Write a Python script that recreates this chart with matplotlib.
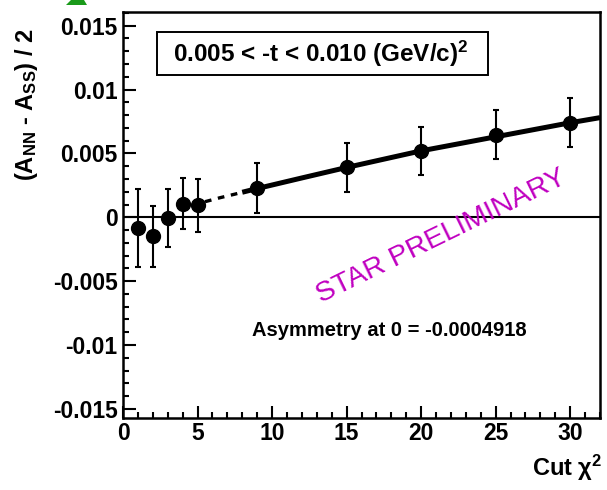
import matplotlib
matplotlib.use("Agg")
import matplotlib.pyplot as plt
from matplotlib.patches import Rectangle, Polygon
from matplotlib.ticker import MultipleLocator, FixedLocator

plt.rcParams['font.family'] = ['Liberation Sans', 'DejaVu Sans']
plt.rcParams['font.weight'] = 'bold'
plt.rcParams['mathtext.fontset'] = 'custom'
plt.rcParams['mathtext.rm'] = 'Liberation Sans:bold'
plt.rcParams['mathtext.it'] = 'Liberation Sans:bold'
plt.rcParams['mathtext.bf'] = 'Liberation Sans:bold'
plt.rcParams['mathtext.default'] = 'regular'

# Measured asymmetry vs. chi^2 cut
cut_chi2 = [1, 2, 3, 4, 5, 9, 15, 20, 25, 30]
asym = [-0.00084, -0.0015, -0.00003, 0.00107, 0.00095, 0.0023, 0.0039, 0.0052, 0.00646, 0.0074]
asym_err = [0.00306, 0.0024, 0.00228, 0.0020, 0.00207, 0.00193, 0.00194, 0.0019, 0.00193, 0.0019]

# Fit curve (dashed where extrapolated, solid over the fitted range)
fit_dash_x = [5.5, 6.5, 7.5, 8.0]
fit_dash_y = [0.00122, 0.00153, 0.00181, 0.00196]
fit_solid_x = [8.0, 9, 12, 15, 20, 25, 30, 32]
fit_solid_y = [0.00196, 0.00225, 0.00308, 0.0039, 0.0052, 0.0063, 0.0074, 0.0078]

x_ticks = [0, 5, 10, 15, 20, 25, 30]
y_ticks = [-0.015, -0.01, -0.005, 0, 0.005, 0.01, 0.015]
y_tick_labels = ['-0.015', '-0.01', '-0.005', '0', '0.005', '0.01', '0.015']

W, H = 607, 490
fig = plt.figure(figsize=(W / 100, H / 100), dpi=100)
ax = fig.add_axes([123 / W, 1 - 418 / H, (600 - 123) / W, (418 - 12.5) / H])

ax.axhline(0, color='black', lw=1.5, zorder=1)
ax.plot(fit_dash_x, fit_dash_y, color='black', lw=2.4, ls=(0, (2, 2)), zorder=2)
ax.plot(fit_solid_x, fit_solid_y, color='black', lw=3.6, solid_capstyle='butt', zorder=2)
ax.errorbar(cut_chi2, asym, yerr=asym_err, fmt='o', color='black', ms=10,
            elinewidth=1.5, capsize=2.5, capthick=1.5, zorder=3)

ax.set_xlim(0, 32)
ax.set_ylim(-0.01571, 0.01603)
ax.xaxis.set_major_locator(FixedLocator(x_ticks))
ax.xaxis.set_minor_locator(MultipleLocator(1))
ax.yaxis.set_major_locator(FixedLocator(y_ticks))
ax.set_yticklabels(y_tick_labels)
ax.yaxis.set_minor_locator(MultipleLocator(0.001))
ax.tick_params(which='both', direction='in', top=False, right=False, labelsize=16.5, width=1.5)
ax.tick_params(which='major', length=9)
ax.tick_params(which='minor', length=4.5)
ax.tick_params(axis='y', pad=4)
ax.tick_params(axis='x', pad=3)
for lab in ax.get_xticklabels() + ax.get_yticklabels():
    lab.set_fontweight('bold')
for s in ax.spines.values():
    s.set_linewidth(1.8)

fig.text(27 / W, 1 - 105 / H, '(A$_{NN}$ - A$_{SS}$) / 2', rotation=90,
         ha='center', va='center', fontsize=17, fontweight='bold')
fig.text(602 / W, 1 - 468 / H, 'Cut χ$^{2}$', ha='right', va='center',
         fontsize=17, fontweight='bold')

fig.patches.append(Rectangle((157 / W, 1 - 75 / H), (488 - 157) / W, (75 - 32) / H,
                             transform=fig.transFigure, fill=False, ec='black', lw=1.4))
fig.text(321 / W, 1 - 54 / H, '0.005 < -t < 0.010 (GeV/c)$^{2}$', ha='center',
         va='center', fontsize=17.5, fontweight='bold')

fig.text(389 / W, 1 - 330 / H, 'Asymmetry at 0 = -0.0004918', ha='center',
         va='center', fontsize=14.5, fontweight='bold')

fig.text(441 / W, 1 - 237 / H, 'STAR PRELIMINARY', rotation=26, ha='center',
         va='center', fontsize=20.5, fontweight='normal', color='#c000c0',
         rotation_mode='anchor')

fig.patches.append(Polygon([(66 / W, 1 - 5 / H), (71 / W, 1.0), (84 / W, 1.0), (87 / W, 1 - 5 / H)],
                           closed=True, transform=fig.transFigure, fc='#1a9a1a', ec='none'))

fig.savefig('out.png', dpi=100)
